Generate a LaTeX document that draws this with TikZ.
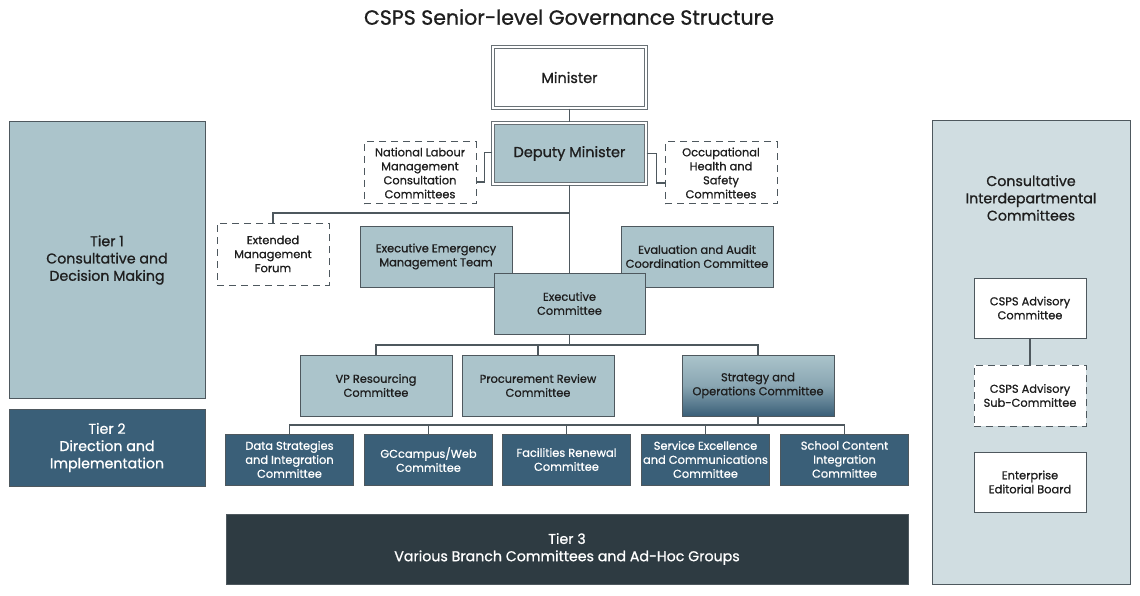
\documentclass[tikz,border=0pt]{standalone}
\usepackage{fontspec}
\setmainfont{Poppins}[FakeBold=0.9]
\usetikzlibrary{calc}
\definecolor{lightb}{HTML}{ABC4CB}
\definecolor{darkb}{HTML}{3A5F78}
\definecolor{tier3}{HTML}{2E3B42}
\definecolor{panel}{HTML}{D0DDE1}
\definecolor{bcol}{HTML}{4E585E}
\definecolor{tcol}{HTML}{1E1E1E}
\tikzset{
  box/.style={draw=bcol, line width=1pt, align=center, inner sep=0pt, text=tcol, font=\fontsize{11.4}{14}\selectfont},
  dbox/.style={box, dashed, dash pattern=on 7pt off 5pt},
  lbox/.style={box, fill=lightb},
  nbox/.style={box, fill=darkb, text=white},
  wbox/.style={box, fill=white},
  top2/.style={box, draw=bcol!85, double=white, double distance=1.3pt, line width=1.2pt, font=\fontsize{14.5}{16}\selectfont},
  conn/.style={draw=bcol, line width=1.1pt},
  big/.style={font=\fontsize{14.2}{17.3}\selectfont},
}
\begin{document}
\begin{tikzpicture}[x=1pt,y=-1pt]
\useasboundingbox (0,0) rectangle (1140,596);
\node[font=\fontsize{20.5}{22}\selectfont, text=tcol] (title) at (569,17) {CSPS Senior-level Governance Structure};
% left tiers
\node[box, big, fill=lightb, minimum width=196, minimum height=276] (t1) at (107,260) {Tier 1\\Consultative and\\Decision Making};
\node[box, big, fill=darkb, text=white, minimum width=196, minimum height=77] (t2) at (107,447.5) {Tier 2\\Direction and\\Implementation};
% right panel
\node[box, fill=panel, minimum width=198, minimum height=463] (rp) at (1031,352.5) {};
\node[big, align=center, text=tcol] (rpt) at (1031,198) {Consultative\\Interdepartmental\\Committees};
\node[wbox, minimum width=112, minimum height=60] (adv) at (1030,308) {CSPS Advisory\\Committee};
\node[dbox, fill=white, minimum width=112, minimum height=61] (sub) at (1030,395.5) {CSPS Advisory\\Sub-Committee};
\node[wbox, minimum width=112, minimum height=60] (ed) at (1030,482) {Enterprise\\Editorial Board};
\draw[conn] (adv) -- (sub);
% top
\node[top2, fill=white, minimum width=153, minimum height=61] (min) at (569.5,77.5) {Minister};
\node[top2, fill=lightb, minimum width=153, minimum height=61] (dm) at (569.5,153.5) {Deputy Minister};
\node[dbox, minimum width=112, minimum height=62] (nl) at (420,173) {National Labour\\Management\\Consultation\\Committees};
\node[dbox, minimum width=112, minimum height=62] (oh) at (721,173) {Occupational\\Health and\\Safety\\Committees};
\node[dbox, minimum width=112, minimum height=62] (emf) at (273,254) {Extended\\Management\\Forum};
\node[lbox, minimum width=152, minimum height=61] (eemt) at (436,256.5) {Executive Emergency\\Management Team};
\node[lbox, minimum width=152, minimum height=61] (eacc) at (697,256.5) {Evaluation and Audit\\Coordination Committee};
\node[lbox, minimum width=151, minimum height=61] (ec) at (569.5,303.5) {Executive\\Committee};
\draw[conn] (min) -- (dm);
\draw[conn] (dm.south) -- (ec.north);
\draw[conn] ($(dm.west)+(0,-1)$) -- ++(-8,0) |- (nl.east |- 0,182);
\draw[conn] (dm.east) -- ++(10,0) |- (oh.west |- 0,183);
\coordinate (j1) at (569.5,213);
\draw[conn] (j1) -| (emf.north);
% row 2
\node[lbox, minimum width=152, minimum height=61] (vp) at (376,385.5) {VP Resourcing\\Committee};
\node[lbox, minimum width=152, minimum height=61] (pr) at (538,385.5) {Procurement Review\\Committee};
\node[box, top color=lightb, bottom color=darkb, middle color=lightb!70!darkb, minimum width=152, minimum height=61] (so) at (758,385.5) {Strategy and\\Operations Committee};
\coordinate (j2) at (569.5,345);
\draw[conn] (ec.south) -- (j2);
\draw[conn] (vp.north) |- (j2) -| (so.north);
\draw[conn] (j2 -| pr.north) -- (pr.north);
% row 3
\node[nbox, minimum width=128, minimum height=51] (ds) at (289.5,459.5) {Data Strategies\\and Integration\\Committee};
\node[nbox, minimum width=128, minimum height=51] (gc) at (428.5,459.5) {GCcampus/Web\\Committee};
\node[nbox, minimum width=128, minimum height=51] (fr) at (566.5,459.5) {Facilities Renewal\\Committee};
\node[nbox, minimum width=128, minimum height=51] (se) at (705.5,459.5) {Service Excellence\\and Communications\\Committee};
\node[nbox, minimum width=128, minimum height=51] (sc) at (844.5,459.5) {School Content\\Integration\\Committee};
\coordinate (j3) at (758,425);
\draw[conn] (so.south) -- (j3);
\draw[conn] (ds.north) |- (j3) -| (sc.north);
\foreach \n in {gc,fr,se} \draw[conn] (j3 -| \n.north) -- (\n.north);
% tier 3
\node[box, big, fill=tier3, text=white, minimum width=682, minimum height=70] (t3) at (567,549) {Tier 3\\Various Branch Committees and Ad-Hoc Groups};
\end{tikzpicture}
\end{document}
